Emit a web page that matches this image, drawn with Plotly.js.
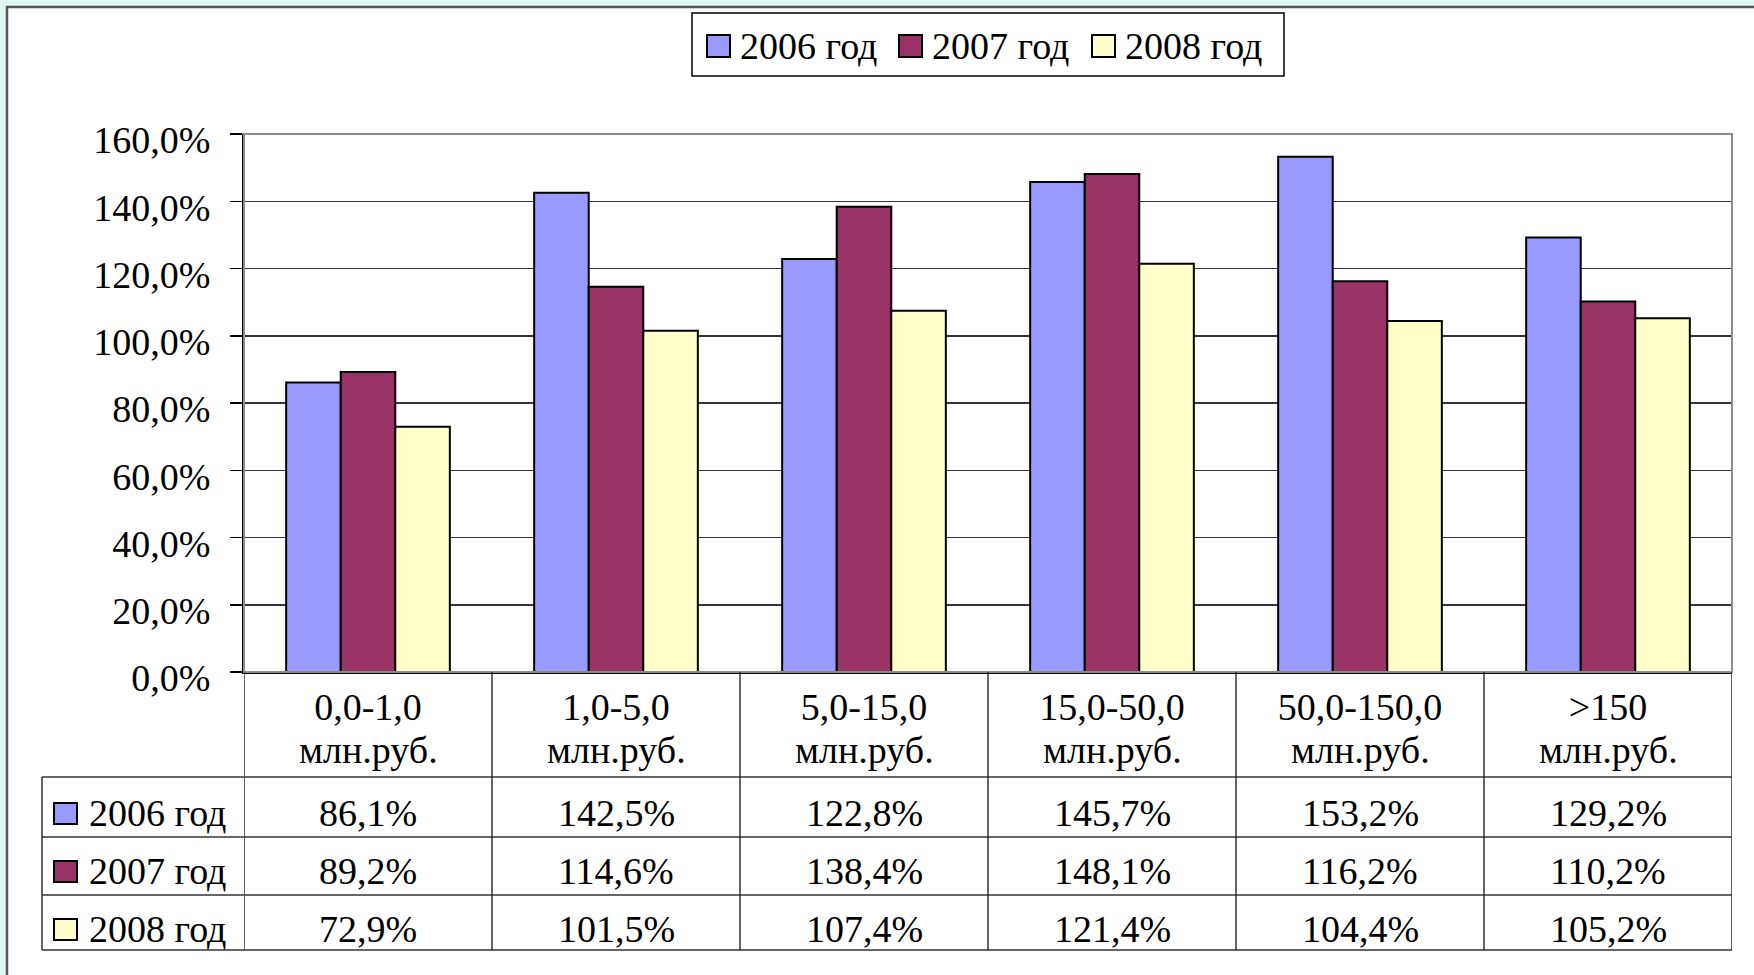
<!DOCTYPE html>
<html>
<head>
<meta charset="utf-8">
<script src="https://cdn.plot.ly/plotly-3.0.1.min.js"></script>
<style>
  html, body { margin: 0; padding: 0; background: #dff5f0; }
  #chart { width: 1754px; height: 975px; }
</style>
</head>
<body>
<div id="chart"></div>
<script>
// ---- data ----
const categoryRanges = ["0,0-1,0", "1,0-5,0", "5,0-15,0", "15,0-50,0", "50,0-150,0", ">150"];
const categoryUnit = "млн.руб.";
const seriesNames = ["2006 год", "2007 год", "2008 год"];
const values2006 = [86.1, 142.5, 122.8, 145.7, 153.2, 129.2];
const values2007 = [89.2, 114.6, 138.4, 148.1, 116.2, 110.2];
const values2008 = [72.9, 101.5, 107.4, 121.4, 104.4, 105.2];
const yTicks = [0, 20, 40, 60, 80, 100, 120, 140, 160];

// ---- styling ----
const colors = ["#9999ff", "#993366", "#ffffcc"];
const FONT = '"Liberation Serif", "Times New Roman", serif';
const FS = 38;
const W = 1754, H = 975;
const PL = 244, PR = 1732, PT = 134, PB = 672;
const px2x = p => (p - PL) / (PR - PL);
const px2y = p => (PB - p) / (PB - PT);

const seriesValues = [values2006, values2007, values2008];
const fmt = v => v.toFixed(1).replace(".", ",") + "%";

const traces = seriesValues.map((vals, s) => ({
  type: "bar",
  name: seriesNames[s],
  x: categoryRanges,
  y: vals,
  marker: { color: colors[s], line: { color: "#000", width: 2 } },
  hoverinfo: "skip"
}));

const shapes = [];
const annotations = [];
const line = (x0, y0, x1, y1, color, width, xref) => shapes.push({
  type: "line", xref: xref || "paper", yref: "paper",
  x0: x0, x1: x1, y0: y0, y1: y1,
  line: { color: color || "#333", width: width || 1.5 }, layer: "above"
});

// white panel with frame
shapes.push({
  type: "rect", xref: "paper", yref: "paper",
  x0: px2x(7), x1: px2x(1770), y0: px2y(7), y1: px2y(990),
  fillcolor: "#ffffff", line: { color: "#555", width: 2.5 }, layer: "below"
});
// plot border (grey)
shapes.push({
  type: "rect", xref: "paper", yref: "paper", x0: 0, x1: 1, y0: 0, y1: 1,
  line: { color: "#8c8c8c", width: 2 }, layer: "above"
});

// category unit line (second line of the category header)
categoryRanges.forEach((c, i) => {
  annotations.push({
    xref: "x", yref: "paper", x: i, y: px2y(750),
    xanchor: "center", yanchor: "middle", showarrow: false,
    text: categoryUnit, font: { family: FONT, size: FS, color: "#000" }
  });
});

// table lines
const rowTops = [777, 837, 895];
const tableBottom = 950;
const tableLeft = 42;
for (let i = 0; i <= categoryRanges.length; i++) {
  line(i - 0.5, 0, i - 0.5, px2y(tableBottom), "#333", 1.5, "x");
}
rowTops.forEach(y => line(px2x(tableLeft), px2y(y), 1, px2y(y)));
line(px2x(tableLeft), px2y(tableBottom), 1, px2y(tableBottom));
line(px2x(tableLeft), px2y(rowTops[0]), px2x(tableLeft), px2y(tableBottom));

// table rows
const rowCenters = [813, 871, 929];
seriesValues.forEach((vals, s) => {
  const yc = rowCenters[s];
  shapes.push({
    type: "rect", xref: "paper", yref: "paper",
    x0: px2x(54), x1: px2x(77), y0: px2y(yc - 10), y1: px2y(yc + 11),
    fillcolor: colors[s], line: { color: "#000", width: 2 }, layer: "above"
  });
  annotations.push({
    xref: "paper", yref: "paper", x: px2x(87), y: px2y(yc),
    xanchor: "left", yanchor: "middle", showarrow: false,
    text: seriesNames[s], font: { family: FONT, size: FS, color: "#000" }
  });
  vals.forEach((v, i) => {
    annotations.push({
      xref: "x", yref: "paper", x: i, y: px2y(yc),
      xanchor: "center", yanchor: "middle", showarrow: false,
      text: fmt(v), font: { family: FONT, size: FS, color: "#000" }
    });
  });
});

// top legend
shapes.push({
  type: "rect", xref: "paper", yref: "paper",
  x0: px2x(692), x1: px2x(1284), y0: px2y(13), y1: px2y(76),
  fillcolor: "#ffffff", line: { color: "#000", width: 1.5 }, layer: "above"
});
const legendSwatchX = [707, 899, 1092];
seriesNames.forEach((n, s) => {
  const x0 = legendSwatchX[s];
  shapes.push({
    type: "rect", xref: "paper", yref: "paper",
    x0: px2x(x0), x1: px2x(x0 + 23), y0: px2y(35), y1: px2y(57),
    fillcolor: colors[s], line: { color: "#000", width: 2 }, layer: "above"
  });
  annotations.push({
    xref: "paper", yref: "paper", x: px2x(x0 + 31), y: px2y(46),
    xanchor: "left", yanchor: "middle", showarrow: false,
    text: n, font: { family: FONT, size: FS, color: "#000" }
  });
});

const layout = {
  width: W, height: H,
  margin: { l: PL, r: W - PR, t: PT, b: H - PB, pad: 0 },
  paper_bgcolor: "#dff5f0",
  plot_bgcolor: "#ffffff",
  separators: ", ",
  showlegend: false,
  barmode: "group",
  bargap: 0.34,
  bargroupgap: 0,
  font: { family: FONT, size: FS, color: "#000" },
  xaxis: {
    type: "category",
    range: [-0.5, categoryRanges.length - 0.5],
    showline: true, linecolor: "#000", linewidth: 2,
    ticks: "", showgrid: false,
    tickfont: { family: FONT, size: FS, color: "#000" },
    ticklabelstandoff: 0,
    fixedrange: true
  },
  yaxis: {
    range: [0, 160],
    tickvals: yTicks,
    ticktext: yTicks.map(fmt),
    showline: true, linecolor: "#000", linewidth: 2,
    ticks: "outside", ticklen: 12, tickwidth: 1.5, tickcolor: "#000",
    showgrid: true, gridcolor: "#333", gridwidth: 1.5,
    zeroline: false,
    tickfont: { family: FONT, size: FS, color: "#000" },
    ticklabelstandoff: 12,
    ticklabelshift: 6,
    fixedrange: true
  },
  shapes: shapes,
  annotations: annotations
};

Plotly.newPlot("chart", traces, layout, { displayModeBar: false, staticPlot: true });
</script>
</body>
</html>
